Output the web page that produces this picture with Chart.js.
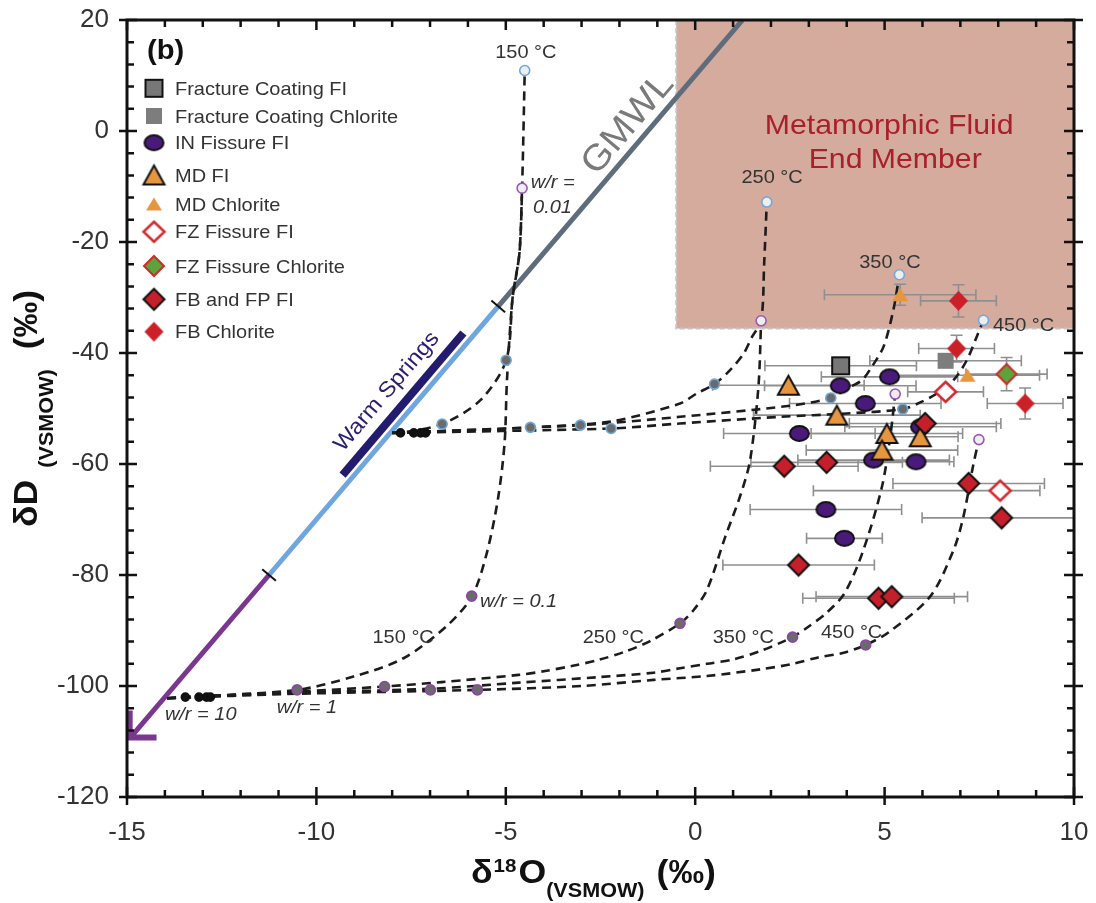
<!DOCTYPE html>
<html>
<head>
<meta charset="utf-8">
<script src="https://cdn.jsdelivr.net/npm/chart.js@4.4.1/dist/chart.umd.min.js"></script>
<style>
  html, body { margin: 0; padding: 0; background: #fff; }
  #wrap { width: 1096px; height: 903px; }
</style>
</head>
<body>
<div id="wrap"><canvas id="c" width="1096" height="903"></canvas></div>
<script>
// ---- axes ----
const xTickVals = [-15, -10, -5, 0, 5, 10];
const xTickLabels = ['-15', '-10', '-5', '0', '5', '10'];
const yTickVals = [-120, -100, -80, -60, -40, -20, 0, 20];
const yTickLabels = ['-120', '-100', '-80', '-60', '-40', '-20', '0', '20'];

// ---- samples: d18O, dD, x error (‰), y error ----
const fcFiX = [3.84];  const fcFiY = [-42.3];  const fcFiXe = [2.0];
const fcChX = [6.61];  const fcChY = [-41.4];  const fcChXe = [2.0];
const inX  = [5.13, 3.83, 4.49, 2.75, 5.95, 4.71, 5.83, 3.45, 3.94];
const inY  = [-44.3, -45.9, -49.1, -54.5, -53.3, -59.3, -59.6, -68.2, -73.4];
const inXe = [1.8, 2.0, 2.0, 2.0, 2.0, 2.0, 1.0, 2.0, 1.0];
const mdFiX  = [2.46, 3.74, 5.06, 5.94, 4.93];
const mdFiY  = [-45.8, -51.2, -54.5, -55.1, -57.5];
const mdFiXe = [2.0, 2.2, 2.0, 1.0, 2.0];
const mdChX = [5.41, 7.19];  const mdChY = [-29.5, -44.0];
const mdChXe = [2.0, 1.9];   const mdChYe = [1.9, 0];
const fzFiX = [6.61, 8.05];  const fzFiY = [-47.0, -64.8];
const fzFiXe = [1.0, [4.93, 1.05]];
const fzChX = [8.22];  const fzChY = [-43.8];  const fzChXe = [1.07];  const fzChYe = [3.0];
const fbFiX  = [6.07, 2.35, 3.47, 7.22, 8.09, 2.73, 4.84, 5.19];
const fbFiY  = [-52.7, -60.4, -59.7, -63.5, -69.7, -78.2, -84.2, -83.9];
const fbFiXe = [2.0, 1.95, 2.0, 2.0, 2.1, 2.0, 2.0, 2.0];
const fbChX = [6.95, 6.90, 8.71];  const fbChY = [-30.6, -39.2, -49.1];
const fbChXe = [1.0, 1.0, 1.0];    const fbChYe = [2.9, 2.4, 2.8];

// ---- GMWL, warm springs ----
const gmwlX = [-14.9, -11.25, -5.2, 1.25];
const gmwlY = [-109.2, -80, -31.6, 20];
const arrowX = [-14.93, -14.93, -14.22];
const arrowY = [-104.4, -109.3, -109.3];
const wsX = [-9.31, -6.12];
const wsY = [-62.0, -36.4];
const boxX = [-0.5, 10];
const boxY = [-35.6, 20];

// ---- mixing curves (upper: warm springs water, lower: meteoric) ----
const u150X = [-8.0, -7.78, -6.68, -5.67, -4.99, -4.82, -4.64, -4.57, -4.50];
const u150Y = [-54.4, -54.4, -52.8, -48.5, -41.3, -30.0, -22.0, -10.3, 10.9];
const u250X = [-8.0, -4.35, -2.2, -0.4, 0.04, 0.51, 0.92, 1.28, 1.50, 1.74, 1.82, 1.89];
const u250Y = [-54.4, -53.4, -52.3, -49.1, -47.3, -45.6, -43.1, -40.1, -37.1, -34.2, -24.0, -12.8];
const u350X = [-8.0, -3.03, -0.4, 2.5, 3.58, 4.0, 4.40, 4.66, 4.97, 5.23, 5.39];
const u350Y = [-54.4, -53.0, -51.5, -49.5, -48.1, -46.4, -44.9, -42.5, -38.9, -32.3, -25.9];
const u450X = [-8.0, -2.22, -0.4, 2.24, 4.0, 5.48, 5.94, 6.38, 6.82, 7.17, 7.43, 7.61];
const u450Y = [-54.4, -53.6, -52.7, -51.5, -50.9, -50.1, -48.9, -47.3, -44.9, -41.3, -37.1, -34.1];
const l150X = [-13.94, -13.46, -10.51, -9.02, -7.7, -6.53, -5.89, -5.5, -5.2, -5.03, -4.97, -4.82, -4.64, -4.57];
const l150Y = [-102.2, -102.0, -100.7, -98.3, -95.0, -89.0, -83.8, -76.0, -66.0, -56.0, -45.0, -30.0, -22.0, -10.3];
const l250X = [-13.94, -10.5, -8.2, -6.7, -4.66, -3.96, -3.26, -2.55, -1.85, -1.19, -0.40, -0.04, 0.31, 0.8, 1.2, 1.45, 1.67, 1.74];
const l250Y = [-102.2, -101.0, -100.1, -99.3, -98.0, -97.3, -96.4, -95.3, -93.8, -91.9, -88.7, -86.3, -82.7, -73.0, -65.5, -59.3, -46.0, -34.2];
const l350X = [-13.94, -10.5, -6.99, -4.66, -2.55, -1.1, -0.4, 0.31, 1.01, 1.72, 2.32, 2.57, 2.95, 3.47, 3.95, 4.44, 4.93, 5.15, 5.28];
const l350Y = [-102.2, -101.2, -100.5, -99.4, -98.4, -97.6, -96.8, -96.0, -95.2, -93.7, -92.0, -91.2, -89.5, -86.8, -83.2, -75.5, -64.1, -55.0, -47.4];
const l450X = [-13.94, -10.5, -5.75, -3.0, -1.1, 0.31, 1.72, 2.51, 3.22, 3.92, 4.50, 5.11, 6.2, 6.82, 7.08, 7.34, 7.49];
const l450Y = [-102.2, -101.4, -100.7, -100.0, -98.9, -98.2, -97.0, -96.1, -94.9, -94.0, -92.6, -90.3, -83.9, -75.5, -69.5, -60.2, -55.6];

// ---- model points on curves ----
const upFillX = [-6.68, -4.35, -3.03, -2.22, -4.99, 0.51, 3.58, 5.48];
const upFillY = [-52.8, -53.4, -53.0, -53.6, -41.3, -45.6, -48.1, -50.1];
const upOpenX = [-4.50, 1.89, 5.39, 7.61];
const upOpenY = [10.9, -12.8, -25.9, -34.1];
const loFillX = [-10.51, -8.20, -6.99, -5.75, -5.90, -0.40, 2.57, 4.50];
const loFillY = [-100.7, -100.1, -100.7, -100.7, -83.8, -88.7, -91.2, -92.6];
const loOpenX = [-4.57, 1.74, 5.28, 7.49];
const loOpenY = [-10.3, -34.2, -47.4, -55.6];
const blackX = [-7.78, -7.43, -7.25, -7.12, -13.46, -13.1, -12.9, -12.8];
const blackY = [-54.4, -54.4, -54.4, -54.4, -102.0, -102.0, -102.0, -102.0];

const gmwlTickX = [-5.2, -11.25];
const gmwlTickY = [-31.6, -80];

const FONT = '"Liberation Sans", Arial, sans-serif';
const STRETCH = 1.08;

// 点マーカー画像
function makeMarker(shape, w, h, fill, stroke, lw) {
  const pad = Math.ceil(lw || 0) + 1;
  const c = document.createElement('canvas');
  c.width = w + 2 * pad; c.height = h + 2 * pad;
  const g = c.getContext('2d');
  const cx = c.width / 2, cy = c.height / 2;
  g.beginPath();
  if (shape === 'square') g.rect(cx - w / 2, cy - h / 2, w, h);
  else if (shape === 'ellipse') g.ellipse(cx, cy, w / 2, h / 2, 0, 0, Math.PI * 2);
  else if (shape === 'triangle') { g.moveTo(cx, cy - h / 2); g.lineTo(cx + w / 2, cy + h / 2); g.lineTo(cx - w / 2, cy + h / 2); g.closePath(); }
  else { g.moveTo(cx, cy - h / 2); g.lineTo(cx + w / 2, cy); g.lineTo(cx, cy + h / 2); g.lineTo(cx - w / 2, cy); g.closePath(); }
  g.fillStyle = fill; g.fill();
  if (stroke) { g.lineWidth = lw; g.strokeStyle = stroke; g.lineJoin = 'miter'; g.stroke(); }
  return c;
}

const mk = {
  fcFi: makeMarker('square', 17, 17, '#777777', '#111', 2),
  fcCh: makeMarker('square', 16, 16, '#7d7d7d', null, 0),
  inFi: makeMarker('ellipse', 19, 15, '#4a1a7b', '#111', 2),
  mdFi: makeMarker('triangle', 21, 19, '#e6963e', '#111', 2),
  mdCh: makeMarker('triangle', 16, 13, '#e6963e', null, 0),
  fzFi: makeMarker('diamond', 21, 20, '#ffffff', '#d12a2e', 2.5),
  fzCh: makeMarker('diamond', 20, 20, '#5da33a', '#d12a2e', 2),
  fbFi: makeMarker('diamond', 21, 21, '#c51f2b', '#111', 2),
  fbCh: makeMarker('diamond', 19, 20, '#cc2029', null, 0)
};

const series = [
  { key: 'fbCh', label: 'FB Chlorite', x: fbChX, y: fbChY, xe: fbChXe, ye: fbChYe },
  { key: 'fbFi', label: 'FB and FP FI', x: fbFiX, y: fbFiY, xe: fbFiXe },
  { key: 'fzCh', label: 'FZ Fissure Chlorite', x: fzChX, y: fzChY, xe: fzChXe, ye: fzChYe },
  { key: 'fzFi', label: 'FZ Fissure FI', x: fzFiX, y: fzFiY, xe: fzFiXe },
  { key: 'mdCh', label: 'MD Chlorite', x: mdChX, y: mdChY, xe: mdChXe, ye: mdChYe },
  { key: 'mdFi', label: 'MD FI', x: mdFiX, y: mdFiY, xe: mdFiXe },
  { key: 'inFi', label: 'IN Fissure FI', x: inX, y: inY, xe: inXe },
  { key: 'fcCh', label: 'Fracture Coating Chlorite', x: fcChX, y: fcChY, xe: fcChXe },
  { key: 'fcFi', label: 'Fracture Coating FI', x: fcFiX, y: fcFiY, xe: fcFiXe }
];
const legendOrder = ['fcFi', 'fcCh', 'inFi', 'mdFi', 'mdCh', 'fzFi', 'fzCh', 'fbFi', 'fbCh'];
const legendRowY = [68.3, 96, 122.7, 155, 184, 211.7, 246, 279.3, 311.7];

const pts = (xs, ys) => xs.map((v, i) => ({ x: v, y: ys[i] }));

const datasets = [];
series.forEach(s => datasets.push({
  label: s.label, data: pts(s.x, s.y), pointStyle: mk[s.key], pointRadius: 8, showLine: false
}));
const dot = (xs, ys, fill, border, r) => ({
  data: pts(xs, ys), pointStyle: 'circle', pointRadius: r, backgroundColor: fill,
  borderColor: border, borderWidth: 1.6, showLine: false
});
datasets.push(dot(loOpenX, loOpenY, '#eeeeee', '#9c56b5', 5));
datasets.push(dot(upOpenX, upOpenY, '#eeeeee', '#6fa8dc', 5));
datasets.push(dot(loFillX, loFillY, '#6b6b6b', '#8e45a8', 5));
datasets.push(dot(upFillX, upFillY, '#6b6b6b', '#6fa8dc', 5));
datasets.push(dot(blackX, blackY, '#111', '#111', 4));
const curve = (xs, ys) => ({
  data: pts(xs, ys), showLine: true, pointRadius: 0, borderColor: '#1c1c1c', borderWidth: 2.6,
  borderDash: [9, 6], tension: 0.3, fill: false
});
[[u150X, u150Y], [u250X, u250Y], [u350X, u350Y], [u450X, u450Y],
 [l150X, l150Y], [l250X, l250Y], [l350X, l350Y], [l450X, l450Y]].forEach(c => datasets.push(curve(c[0], c[1])));
const solid = (xs, ys, color, w) => ({
  data: pts(xs, ys), showLine: true, pointRadius: 0, borderColor: color, borderWidth: w,
  tension: 0, fill: false, borderCapStyle: 'butt', borderJoinStyle: 'miter'
});
datasets.push(solid(wsX, wsY, '#231b6d', 8));
datasets.push(solid(arrowX, arrowY, '#7a378f', 6));
datasets.push(solid(gmwlX.slice(2, 4), gmwlY.slice(2, 4), '#5e6c7c', 5));
datasets.push(solid(gmwlX.slice(1, 3), gmwlY.slice(1, 3), '#6ea6dd', 5));
datasets.push(solid(gmwlX.slice(0, 2), gmwlY.slice(0, 2), '#7a378f', 5));

function sText(ctx, txt, x, y, font, color, align, angle, base) {
  ctx.save();
  ctx.translate(x, y);
  if (angle) ctx.rotate(angle);
  ctx.scale(STRETCH, 1);
  ctx.font = font; ctx.fillStyle = color;
  ctx.textAlign = align || 'left'; ctx.textBaseline = base || 'alphabetic';
  ctx.fillText(txt, 0, 0);
  ctx.restore();
}

// 上付き・下付きを含むタイトル
function richText(ctx, parts, x, y, angle) {
  ctx.save();
  ctx.translate(x, y);
  if (angle) ctx.rotate(angle);
  ctx.scale(STRETCH, 1);
  ctx.fillStyle = '#111'; ctx.textBaseline = 'alphabetic'; ctx.textAlign = 'left';
  let cx = 0;
  parts.forEach(p => {
    cx += (p[3] || 0) / STRETCH;
    ctx.font = p[1];
    ctx.fillText(p[0], cx, p[2]);
    cx += ctx.measureText(p[0]).width;
  });
  ctx.restore();
}

const annotations = [
  { t: '150 °C', x: -4.47, y: 13.10, f: '18.5px ' + FONT, a: 'center' },
  { t: '250 °C', x: 2.03, y: -9.37, f: '18.5px ' + FONT, a: 'center' },
  { t: '350 °C', x: 5.14, y: -24.68, f: '18.5px ' + FONT, a: 'center' },
  { t: '450 °C', x: 7.86, y: -35.98, f: '18.5px ' + FONT, a: 'left' },
  { t: 'w/r =', x: -4.34, y: -10.27, f: 'italic 18.5px ' + FONT, a: 'left' },
  { t: '0.01', x: -4.28, y: -14.77, f: 'italic 18.5px ' + FONT, a: 'left' },
  { t: 'w/r = 0.1', x: -5.68, y: -85.71, f: 'italic 18.5px ' + FONT, a: 'left' },
  { t: '150 °C', x: -7.71, y: -92.2, f: '18.5px ' + FONT, a: 'center' },
  { t: '250 °C', x: -2.16, y: -92.31, f: '18.5px ' + FONT, a: 'center' },
  { t: '350 °C', x: 1.27, y: -92.31, f: '18.5px ' + FONT, a: 'center' },
  { t: '450 °C', x: 4.13, y: -91.4, f: '18.5px ' + FONT, a: 'center' },
  { t: 'w/r = 10', x: -14.0, y: -106.1, f: 'italic 18.5px ' + FONT, a: 'left' },
  { t: 'w/r = 1', x: -11.05, y: -104.9, f: 'italic 18.5px ' + FONT, a: 'left' },
  { t: 'Metamorphic Fluid', x: 5.12, y: -0.54, f: '28px ' + FONT, a: 'center', c: '#a8202b' },
  { t: 'End Member', x: 5.28, y: -6.67, f: '28px ' + FONT, a: 'center', c: '#a8202b' },
  { t: '(b)', x: -14.47, y: 12.97, f: 'bold 27px ' + FONT, a: 'left', c: '#111' }
];

const overlay = {
  id: 'overlay',
  beforeDatasetsDraw(chart) {
    const { ctx, chartArea: a, scales: { x, y } } = chart;
    ctx.save();
    // metamorphic end member box
    const bx0 = x.getPixelForValue(boxX[0]), bx1 = x.getPixelForValue(boxX[1]);
    const by0 = y.getPixelForValue(boxY[0]), by1 = y.getPixelForValue(boxY[1]);
    ctx.fillStyle = '#d4ab9c';
    ctx.fillRect(bx0, by1, bx1 - bx0, by0 - by1);
    ctx.setLineDash([5, 3]); ctx.strokeStyle = '#c6c6c6'; ctx.lineWidth = 2;
    ctx.beginPath(); ctx.moveTo(bx0, by1); ctx.lineTo(bx0, by0); ctx.lineTo(bx1, by0); ctx.stroke();
    ctx.setLineDash([]);
    // error bars
    ctx.beginPath(); ctx.rect(a.left, a.top, a.right - a.left, a.bottom - a.top); ctx.clip();
    ctx.strokeStyle = '#8f8f8f'; ctx.lineWidth = 1.6;
    series.forEach(s => {
      s.x.forEach((xv, i) => {
        const px = x.getPixelForValue(xv), py = y.getPixelForValue(s.y[i]);
        const e = s.xe ? s.xe[i] : 0;
        const lo = Array.isArray(e) ? e[0] : e, hi = Array.isArray(e) ? e[1] : e;
        if (lo || hi) {
          const p0 = x.getPixelForValue(xv - lo), p1 = x.getPixelForValue(xv + hi);
          ctx.beginPath();
          ctx.moveTo(p0, py); ctx.lineTo(p1, py);
          ctx.moveTo(p0, py - 5.5); ctx.lineTo(p0, py + 5.5);
          ctx.moveTo(p1, py - 5.5); ctx.lineTo(p1, py + 5.5);
          ctx.stroke();
        }
        const ye = s.ye ? s.ye[i] : 0;
        if (ye) {
          const q0 = y.getPixelForValue(s.y[i] - ye), q1 = y.getPixelForValue(s.y[i] + ye);
          ctx.beginPath();
          ctx.moveTo(px, q0); ctx.lineTo(px, q1);
          ctx.moveTo(px - 6, q0); ctx.lineTo(px + 6, q0);
          ctx.moveTo(px - 6, q1); ctx.lineTo(px + 6, q1);
          ctx.stroke();
        }
      });
    });
    ctx.restore();
  },
  afterDatasetsDraw(chart) {
    const { ctx, chartArea: a, scales: { x, y } } = chart;
    // GMWL segment ticks
    const gx0 = x.getPixelForValue(gmwlX[1]), gy0 = y.getPixelForValue(gmwlY[1]);
    const gx1 = x.getPixelForValue(gmwlX[2]), gy1 = y.getPixelForValue(gmwlY[2]);
    const len = Math.hypot(gx1 - gx0, gy1 - gy0);
    const ux = (gx1 - gx0) / len, uy = (gy1 - gy0) / len;
    const ang = Math.atan2(gy1 - gy0, gx1 - gx0);
    ctx.save();
    ctx.strokeStyle = '#111'; ctx.lineWidth = 2;
    gmwlTickX.forEach((tx, i) => {
      const px = x.getPixelForValue(tx), py = y.getPixelForValue(gmwlTickY[i]);
      ctx.beginPath();
      ctx.moveTo(px - uy * 9, py + ux * 9); ctx.lineTo(px + uy * 9, py - ux * 9);
      ctx.stroke();
    });
    ctx.restore();
    // rotated labels
    sText(ctx, 'GMWL', x.getPixelForValue(-1.77), y.getPixelForValue(1.26), '36px ' + FONT, '#7a7a7a', 'center', ang, 'middle');
    sText(ctx, 'Warm Springs', x.getPixelForValue(-8.14), y.getPixelForValue(-46.97), '22px ' + FONT, '#2a1f6e', 'center', ang, 'middle');
    annotations.forEach(n => sText(ctx, n.t, x.getPixelForValue(n.x), y.getPixelForValue(n.y), n.f, n.c || '#333', n.a));
    // legend
    legendOrder.forEach((k, i) => {
      const s = series.find(d => d.key === k);
      const img = mk[k];
      const cy = a.top + legendRowY[i];
      ctx.drawImage(img, a.left + 27 - img.width / 2, cy - img.height / 2);
      sText(ctx, s.label, a.left + 48, cy + 6.5, '18.5px ' + FONT, '#333', 'left');
    });
  },
  afterDraw(chart) {
    const { ctx, chartArea: a, scales: { x, y } } = chart;
    ctx.save();
    ctx.strokeStyle = '#111';
    ctx.lineWidth = 2.5;
    ctx.beginPath();
    for (let v = -15; v <= 10; v++) {
      const px = x.getPixelForValue(v), major = v % 5 === 0;
      ctx.moveTo(px, a.bottom + (major ? 8 : 0)); ctx.lineTo(px, a.bottom - (major ? 10 : 7));
      ctx.moveTo(px, a.top); ctx.lineTo(px, a.top + (major ? 10 : 7));
    }
    for (let v = -120; v <= 20; v += 4) {
      const py = y.getPixelForValue(v), major = v % 20 === 0;
      ctx.moveTo(a.left - (major ? 8 : 0), py); ctx.lineTo(a.left + (major ? 10 : 7), py);
      ctx.moveTo(a.right - (major ? 10 : 7), py); ctx.lineTo(a.right + (major ? 9 : 0), py);
    }
    ctx.stroke();
    ctx.lineWidth = 3;
    ctx.strokeRect(a.left, a.top, a.right - a.left, a.bottom - a.top);
    ctx.restore();
    // axis titles
    richText(ctx, [
      ['δ', 'bold 33px ' + FONT, 0, 0],
      ['18', 'bold 19px ' + FONT, -11.5, 1],
      ['O', 'bold 33px ' + FONT, 0, 2],
      ['(VSMOW)', 'bold 20px ' + FONT, 14, 0],
      ['(‰)', 'bold 33px ' + FONT, 0, 12]
    ], 471, 883, 0);
    richText(ctx, [
      ['δD', 'bold 33px ' + FONT, 0, 0],
      ['(VSMOW)', 'bold 20px ' + FONT, 16, 12],
      ['(‰)', 'bold 33px ' + FONT, 0, 20]
    ], 37, 527, -Math.PI / 2);
  }
};

new Chart(document.getElementById('c'), {
  type: 'scatter',
  data: { datasets },
  options: {
    responsive: false,
    devicePixelRatio: 1,
    animation: false,
    events: [],
    layout: { padding: { top: 20, right: 22, left: 0, bottom: 0 } },
    plugins: { legend: { display: false }, tooltip: { enabled: false } },
    scales: {
      x: {
        type: 'linear', min: -15, max: 10,
        grid: { display: false, drawTicks: false }, border: { display: false },
        ticks: {
          stepSize: 5, padding: 20, maxRotation: 0, color: '#333',
          font: { family: FONT, size: 26 },
          callback: v => xTickLabels[xTickVals.indexOf(v)] ?? ''
        },
        afterFit: s => { s.height = 106; s.paddingLeft = 0; s.paddingRight = 0; }
      },
      y: {
        type: 'linear', min: -120, max: 20,
        grid: { display: false, drawTicks: false }, border: { display: false },
        ticks: {
          stepSize: 20, padding: 18, color: '#333',
          font: { family: FONT, size: 26 },
          callback: v => yTickLabels[yTickVals.indexOf(v)] ?? ''
        },
        afterFit: s => { s.width = 127; s.paddingTop = 0; s.paddingBottom = 0; }
      }
    }
  },
  plugins: [overlay]
});
</script>
</body>
</html>
